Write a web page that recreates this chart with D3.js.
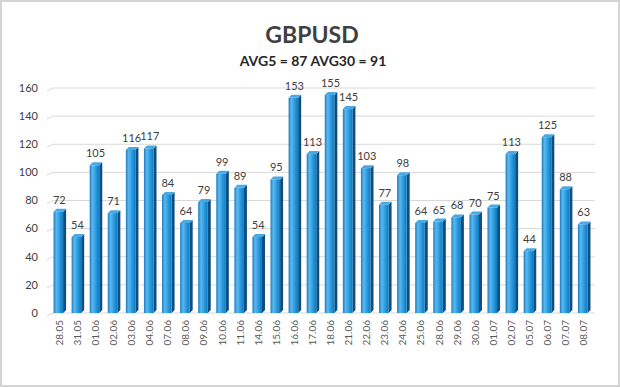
<!DOCTYPE html>
<html lang="en">
<head>
<meta charset="UTF-8">
<title>GBPUSD</title>
<style>
body { margin: 0; background: #fff; }
svg { display: block; font-family: Lato, "Open Sans", sans-serif; }
</style>
</head>
<body>
<div id="chart"></div>
<script src="https://d3js.org/d3.v7.min.js"></script>
<script>
const dates = ["28.05","31.05","01.06","02.06","03.06","04.06","07.06","08.06","09.06","10.06",
  "11.06","14.06","15.06","16.06","17.06","18.06","21.06","22.06","23.06","24.06",
  "25.06","28.06","29.06","30.06","01.07","02.07","05.07","06.07","07.07","08.07"];
const values = [72,54,105,71,116,117,84,64,79,99,89,54,95,153,113,155,145,103,77,98,
  64,65,68,70,75,113,44,125,88,63];
const yTicks = [0,20,40,60,80,100,120,140,160];
const title = "GBPUSD";
const subtitle = "AVG5 = 87 AVG30 = 91";

const width = 620, height = 387;
const svg = d3.select("#chart").append("svg")
  .attr("width", width).attr("height", height);

// frame
svg.append("rect").attr("x", 1).attr("y", 1).attr("width", width - 2).attr("height", height - 2)
  .attr("fill", "#fff").attr("stroke", "#d4d4d4").attr("stroke-width", 2);

const x = d3.scaleBand().domain(dates).range([49, 592]).paddingInner(0.47).paddingOuter(0.25);
const y = d3.scaleLinear().domain([0, 160]).range([313, 88]);

const defs = svg.append("defs");
const g1 = defs.append("linearGradient").attr("id", "front");
g1.append("stop").attr("offset", "0%").attr("stop-color", "#1b7fc4");
g1.append("stop").attr("offset", "30%").attr("stop-color", "#5cb8ef");
g1.append("stop").attr("offset", "70%").attr("stop-color", "#2196dc");
g1.append("stop").attr("offset", "100%").attr("stop-color", "#1677ba");

// gridlines with perspective tail
const grid = svg.append("g");
yTicks.forEach(t => {
  const yy = y(t);
  grid.append("path")
    .attr("d", `M47,${yy + 3}L53,${yy}L595,${yy}`)
    .attr("fill", "none").attr("stroke", "#d9d9d9").attr("stroke-width", 1);
});

// y axis labels
svg.append("g").selectAll("text").data(yTicks).join("text")
  .attr("x", 38).attr("y", d => y(d)).attr("dy", "0.35em")
  .attr("text-anchor", "end").attr("font-size", 11).attr("fill", "#404040")
  .text(d => d);

// bars
const bw = x.bandwidth();
const depth = 3;
const bars = svg.append("g").selectAll("g").data(values).join("g");
// side face
bars.append("path")
  .attr("d", (d, i) => {
    const x0 = x(dates[i]) + bw, y0 = y(d), y1 = y(0);
    return `M${x0},${y0}L${x0 + depth},${y0 - depth}L${x0 + depth},${y1 - depth}L${x0},${y1}Z`;
  })
  .attr("fill", "#0d4f80");
// top cap
bars.append("path")
  .attr("d", (d, i) => {
    const x0 = x(dates[i]), y0 = y(d);
    return `M${x0},${y0}L${x0 + depth},${y0 - depth}L${x0 + bw + depth},${y0 - depth}L${x0 + bw},${y0}Z`;
  })
  .attr("fill", "#4aa8e2");
// front face
bars.append("rect")
  .attr("x", (d, i) => x(dates[i]))
  .attr("y", d => y(d))
  .attr("width", bw)
  .attr("height", d => y(0) - y(d))
  .attr("fill", "url(#front)");

// value labels
svg.append("g").selectAll("text").data(values).join("text")
  .attr("x", (d, i) => x(dates[i]) + bw / 2 + 1)
  .attr("y", d => y(d) - 8)
  .attr("text-anchor", "middle").attr("font-size", 11).attr("fill", "#404040")
  .text(d => d);

// x labels
svg.append("g").selectAll("text").data(dates).join("text")
  .attr("transform", d => `translate(${x(d) + bw / 2 + 1},320) rotate(-90)`)
  .attr("dy", "0.35em")
  .attr("text-anchor", "end").attr("font-size", 10).attr("fill", "#595959")
  .text(d => d);

// titles
svg.append("text").attr("x", 312).attr("y", 43).attr("text-anchor", "middle")
  .attr("font-size", 23).attr("font-weight", "bold").attr("fill", "#404040")
  .text(title);
svg.append("text").attr("x", 313).attr("y", 66).attr("text-anchor", "middle")
  .attr("font-size", 14).attr("font-weight", "bold").attr("fill", "#262626")
  .text(subtitle);
</script>
</body>
</html>
